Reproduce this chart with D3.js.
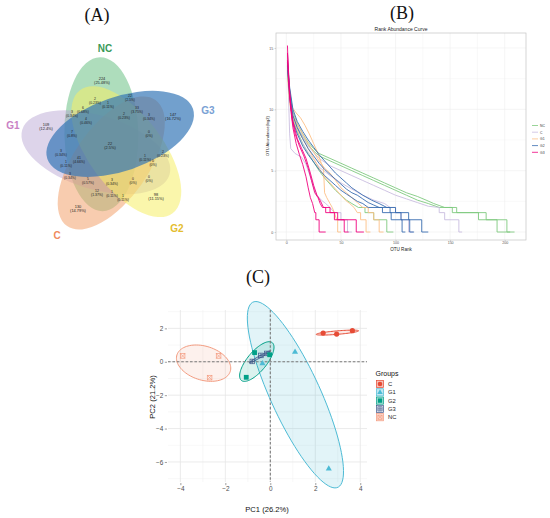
<!DOCTYPE html>
<html>
<head>
<meta charset="utf-8">
<title>OTU figure</title>
<style>
  body { margin: 0; background: #fff; }
  text { font-family: "Liberation Sans", Arial, sans-serif; }
  .tag { font-family: "Liberation Serif", "Times New Roman", serif; font-size: 18px; fill: #111; }
</style>
</head>
<body>
<script src="https://cdn.jsdelivr.net/npm/d3@7"></script>
<script>
// ================= data =================
// (A) Venn: five sets, 31 region counts with their printed percentages
var vennSets   = ["NC", "G3", "G2", "C", "G1"];
var vennCounts = [224, 147, 98, 130, 109, 22, 2, 1, 22, 33, 2, 3, 0, 3, 6, 4, 7, 3, 41, 1, 1, 2, 0, 3, 5, 3, 0, 0, 12, 1, 1];
var vennPcts   = ["25.48%", "16.72%", "11.15%", "14.79%", "12.4%", "2.5%", "0.23%", "0.11%", "2.5%", "3.75%",
                  "0.23%", "0.34%", "0%", "0.34%", "0.68%", "0.46%", "0.8%", "0.34%", "4.66%", "0.11%",
                  "0.11%", "0.23%", "0%", "0.34%", "0.57%", "0.34%", "0%", "0%", "1.37%", "0.11%", "0.11%"];

// (B) rank abundance curves, [OTU rank, log2 abundance], three samples per group
var rankGroups = ["NC", "C", "G1", "G2", "G3"];
var rankNC = [
  [[1,14],[3,11.5],[6,9.8],[10,8.8],[15,8],[20,7.3],[25,6.8],[30,6.4],[40,6],[50,5.6],[60,5.2],[70,4.8],[80,4.4],[90,4],[100,3.6],[110,3.2],[120,2.9],[128,2.6],[135,2.32],[145,2],[156,2],[156,1.58],[183,1.58],[183,1],[202,1],[202,0],[209,0]],
  [[1,13.8],[3,11],[6,9.5],[10,8.5],[15,7.8],[20,7.1],[25,6.6],[30,6.2],[40,5.8],[50,5.4],[60,5],[70,4.6],[80,4.2],[90,3.8],[100,3.4],[110,3],[120,2.6],[130,2.32],[140,2],[152,2],[152,1.58],[176,1.58],[176,1],[193,1],[193,0],[205,0]],
  [[1,13.5],[3,10.8],[6,9.2],[10,8.2],[15,7.2],[20,6.4],[25,5.7],[30,5],[35,4.4],[40,3.9],[45,3.4],[50,3],[55,2.6],[60,2.32],[66,2],[72,2],[72,1.58],[80,1.58],[80,1],[92,1],[92,0],[98,0]]
];
var rankC = [
  [[1,14.6],[3,11.5],[6,9.6],[10,8.6],[15,7.8],[20,7],[25,6.5],[30,6],[40,5.4],[50,5],[60,4.6],[70,4.2],[80,3.8],[90,3.4],[100,3],[110,2.7],[120,2.4],[130,2.1],[140,2],[140,1.58],[145,1.58],[145,1],[158,1],[158,0],[161,0]],
  [[1,14.4],[2,11],[3,8],[4,6.8],[8,6.4],[14,6.1],[18,5.5],[22,4.5],[25,3.6],[28,3],[32,2.6],[36,2.32],[40,2],[44,1.58],[50,1.58],[50,1],[56,1],[56,0],[60,0]],
  [[1,13.8],[3,11],[6,9],[10,8],[15,7.2],[20,6.5],[25,5.9],[30,5.3],[40,4.6],[50,4],[60,3.5],[70,3],[80,2.6],[90,2.32],[95,2],[100,2],[100,1.58],[105,1.58],[105,1],[112,1],[112,0],[116,0]]
];
var rankG1 = [
  [[1,13.2],[3,11],[5,10.2],[9,9.7],[13,9.3],[17,8.7],[21,8],[25,7.2],[29,6.4],[32,5.6],[34,5.2],[35,3.2],[37,2.8],[40,2.32],[42,2],[44,1.58],[46,1],[47,1],[47,0],[50,0]],
  [[1,13.5],[3,11],[6,9.5],[10,8.8],[15,8],[20,7.2],[25,6.5],[30,5.8],[35,5.2],[40,4.8],[45,4.2],[50,3.6],[55,3.2],[60,2.8],[65,2.4],[70,2],[75,2],[75,1.58],[80,1.58],[80,1],[85,1],[85,0],[89,0]],
  [[1,12.8],[3,10.5],[6,9.2],[10,8.3],[15,7.6],[20,6.8],[25,6],[30,5.2],[35,4.5],[40,4],[45,3.5],[50,3],[54,2.6],[58,2.32],[62,2],[65,1.58],[68,1.58],[68,1],[73,1],[73,0],[77,0]]
];
var rankG2 = [
  [[1,13.6],[3,11.5],[6,9.5],[10,8.5],[15,7.6],[20,6.8],[25,6.2],[30,5.6],[35,5.1],[40,4.7],[45,4.3],[50,3.9],[55,3.5],[60,3.2],[65,3],[70,2.7],[75,2.4],[80,2.2],[85,2],[95,2],[95,1.58],[105,1.58],[105,1],[113,1],[113,0],[117,0]],
  [[1,13.2],[3,11],[6,9],[10,8],[15,7],[20,6.3],[25,5.7],[30,5.1],[35,4.6],[40,4.2],[45,3.8],[50,3.4],[55,3.1],[60,2.8],[65,2.5],[70,2.32],[75,2],[88,2],[88,1.58],[96,1.58],[96,1],[106,1],[106,0],[109,0]],
  [[1,13.8],[3,11.8],[6,10],[10,9],[15,8.2],[20,7.5],[25,6.9],[30,6.3],[35,5.8],[40,5.3],[45,4.8],[50,4.4],[55,4],[60,3.6],[65,3.3],[70,3],[78,2.6],[85,2.32],[92,2],[100,2],[100,1.58],[112,1.58],[112,1],[124,1],[124,0],[130,0]]
];
var rankG3 = [
  [[1,15.2],[2,12.5],[4,10],[6,8.5],[9,7.2],[12,6.3],[15,5.5],[18,4.5],[20,3.6],[22,2.8],[24,2.32],[26,1.58],[27,1.58],[27,1],[30,1],[30,0],[36,0]],
  [[1,14.6],[3,11.5],[5,9.3],[8,8],[12,7],[16,6.2],[20,5.2],[23,4.2],[26,3.2],[29,2.8],[31,2.32],[33,2],[36,2],[36,1.58],[44,1.58],[44,1],[53,1],[53,0],[57,0]],
  [[1,14],[3,11],[6,9],[10,7.6],[14,6.8],[18,6],[22,4.8],[25,3.8],[28,3],[31,2.58],[34,2],[40,2],[40,1.58],[47,1.58],[47,1],[64,1],[64,0],[71,0]]
];
var rankXTicks = [0, 50, 100, 150, 200];
var rankYTicks = [0, 5, 10, 15];

// (C) PCA scores [PC1, PC2]
var pcaGroups = ["C", "G1", "G2", "G3", "NC"];
var pcaC  = [[2.35, 1.72], [2.95, 1.66], [3.65, 1.86]];
var pcaG1 = [[1.1, 0.58], [2.6, -6.4], [-0.35, -0.1]];
var pcaG2 = [[-0.7, 0.55], [-0.03, 0.42], [-1.07, -0.93]];
var pcaG3 = [[-0.8, 0.02], [-0.42, 0.38], [-0.15, 0.5]];
var pcaNC = [[-3.9, 0.35], [-2.3, 0.35], [-2.7, -0.95]];
var pcaXTicks = [-4, -2, 0, 2, 4];
var pcaYTicks = [-6, -4, -2, 0, 2];

// ================= figure =================
var width = 550, height = 518;
var svg = d3.select("body").append("svg")
    .attr("width", width)
    .attr("height", height);

svg.append("text").attr("class", "tag").attr("x", 97).attr("y", 21).attr("text-anchor", "middle").text("(A)");
svg.append("text").attr("class", "tag").attr("x", 402).attr("y", 19).attr("text-anchor", "middle").text("(B)");
svg.append("text").attr("class", "tag").attr("x", 258).attr("y", 283).attr("text-anchor", "middle").text("(C)");

// ---------- (A) Venn ----------
var gA = svg.append("g");
var vennFill    = {NC: "#5dbb7a", G3: "#2f73b5", G2: "#f6ee66", C: "#f3a36d", G1: "#b39fd0"};
var vennOpacity = {NC: 0.5, G3: 0.68, G2: 0.55, C: 0.55, G1: 0.45};
var vennText    = {NC: "#3a9a57", G3: "#79a1d4", G2: "#e4bd2f", C: "#ef8a5d", G1: "#c981c4"};
var vennLabelAt = {NC: [105, 52], G3: [208, 114], G2: [177, 232], C: [57, 239], G1: [13, 129]};
var vennPos = [[102,81],[173,117],[156,197],[78,209],[46,127],[110,146],[95,101],[108,105],[130,98],[137,110],
               [124,116],[149,117],[149,134],[72,114],[83,110],[86,121],[72,134],[61,153],[79,160],[66,164],
               [145,158],[163,154],[153,163],[70,176],[88,181],[112,182],[133,181],[149,179],[97,193],[112,194],[123,198]];
var vc = [111, 147], va = 77, vb = 37, voff = 16, rad = Math.PI / 180;

["NC", "G1", "C", "G2", "G3"].forEach(function(s){
  var i = vennSets.indexOf(s), th = -91 + 72 * i;
  var cx = vc[0] + voff * Math.cos((th - 36) * rad),
      cy = vc[1] + voff * Math.sin((th - 36) * rad);
  gA.append("ellipse")
    .attr("rx", va).attr("ry", vb)
    .attr("transform", "translate(" + cx + "," + cy + ") rotate(" + th + ")")
    .attr("fill", vennFill[s])
    .attr("fill-opacity", vennOpacity[s])
    .attr("stroke", "none");
});

gA.selectAll(".setlab")
  .data(vennSets)
  .enter().append("text")
  .attr("class", "setlab")
  .attr("x", function(d){ return vennLabelAt[d][0]; })
  .attr("y", function(d){ return vennLabelAt[d][1]; })
  .attr("text-anchor", "middle")
  .attr("font-size", "10px")
  .attr("font-weight", "bold")
  .attr("fill", function(d){ return vennText[d]; })
  .text(function(d){ return d; });

var reg = gA.selectAll(".reg")
  .data(vennCounts)
  .enter().append("g")
  .attr("class", "reg")
  .attr("transform", function(d, i){ return "translate(" + vennPos[i][0] + "," + vennPos[i][1] + ")"; });
reg.append("text")
  .attr("y", -0.8)
  .attr("text-anchor", "middle")
  .attr("font-size", function(d, i){ return i < 6 ? "3.9px" : "3.4px"; })
  .attr("fill", "#222")
  .text(function(d){ return d; });
reg.append("text")
  .attr("y", 3.4)
  .attr("text-anchor", "middle")
  .attr("font-size", function(d, i){ return i < 6 ? "3.9px" : "3.4px"; })
  .attr("fill", "#222")
  .text(function(d, i){ return "(" + vennPcts[i] + ")"; });

// ---------- (B) Rank abundance ----------
var gB = svg.append("g");
var bx = d3.scaleLinear().domain([-9.5, 219.5]).range([276, 526]);
var by = d3.scaleLinear().domain([-0.65, 16.22]).range([240, 33]);
var rankColor = {NC: "#7fc97f", C: "#c9bde0", G1: "#fdc086", G2: "#386cb0", G3: "#f0027f"};
var rankData = {NC: rankNC, C: rankC, G1: rankG1, G2: rankG2, G3: rankG3};

gB.append("rect").attr("x", 276).attr("y", 33).attr("width", 250).attr("height", 207).attr("fill", "#fff");
var bMinorX = [25, 75, 125, 175], bMinorY = [2.5, 7.5, 12.5];
gB.selectAll(".gx").data(rankXTicks.concat(bMinorX)).enter().append("line")
  .attr("x1", bx).attr("x2", bx).attr("y1", 33).attr("y2", 240)
  .attr("stroke", "#efefef").attr("stroke-width", function(d){ return rankXTicks.indexOf(d) >= 0 ? 0.6 : 0.35; });
gB.selectAll(".gy").data(rankYTicks.concat(bMinorY)).enter().append("line")
  .attr("y1", by).attr("y2", by).attr("x1", 276).attr("x2", 526)
  .attr("stroke", "#efefef").attr("stroke-width", function(d){ return rankYTicks.indexOf(d) >= 0 ? 0.6 : 0.35; });

var rankLine = d3.line().x(function(d){ return bx(d[0]); }).y(function(d){ return by(d[1]); });
rankGroups.forEach(function(g){
  gB.append("g").selectAll("path")
    .data(rankData[g])
    .enter().append("path")
    .attr("d", rankLine)
    .attr("fill", "none")
    .attr("stroke", rankColor[g])
    .attr("stroke-width", 0.9);
});

gB.append("rect").attr("x", 276).attr("y", 33).attr("width", 250).attr("height", 207)
  .attr("fill", "none").attr("stroke", "#c4c4c4").attr("stroke-width", 0.7);

var axB = d3.axisBottom(bx).tickValues(rankXTicks).tickSize(1).tickPadding(0.4);
gB.append("g").attr("transform", "translate(0,240)").call(axB)
  .call(function(g){
    g.select(".domain").remove();
    g.selectAll("line").attr("stroke", "#999").attr("stroke-width", 0.4);
    g.selectAll("text").attr("font-size", "3.6px").attr("fill", "#555").attr("font-family", null);
  });
var ayB = d3.axisLeft(by).tickValues(rankYTicks).tickSize(1.5).tickPadding(1.2);
gB.append("g").attr("transform", "translate(276,0)").call(ayB)
  .call(function(g){
    g.select(".domain").remove();
    g.selectAll("line").attr("stroke", "#999").attr("stroke-width", 0.4);
    g.selectAll("text").attr("font-size", "3.6px").attr("fill", "#555").attr("font-family", null);
  });

gB.append("text").attr("x", 401).attr("y", 30.8).attr("text-anchor", "middle")
  .attr("font-size", "5px").attr("fill", "#222").text("Rank Abundance Curve");
gB.append("text").attr("x", 401).attr("y", 251).attr("text-anchor", "middle")
  .attr("font-size", "4.6px").attr("fill", "#222").text("OTU Rank");
gB.append("text").attr("transform", "translate(268.5,136) rotate(-90)").attr("text-anchor", "middle")
  .attr("font-size", "4px").attr("fill", "#222").text("OTU Abundance(log2)");

var legB = gB.selectAll(".legB").data(rankGroups).enter().append("g")
  .attr("transform", function(d, i){ return "translate(532," + (125.5 + i * 6.7) + ")"; });
legB.append("line").attr("x1", 0).attr("x2", 6).attr("stroke", function(d){ return rankColor[d]; }).attr("stroke-width", 0.8);
legB.append("text").attr("x", 8).attr("y", 1.3).attr("font-size", "3.4px").attr("fill", "#333").text(function(d){ return d; });

// ---------- (C) PCA ----------
var gC = svg.append("g");
var cx = d3.scaleLinear().domain([-4.55, 4.3]).range([168, 367]);
var cy = d3.scaleLinear().domain([-7.2, 3.1]).range([482, 310]);
var pcaColor = {C: "#E64B35", G1: "#4DBBD5", G2: "#00A087", G3: "#3C5488", NC: "#F39B7F"};
var pcaFill  = {C: 0.12, G1: 0.16, G2: 0.14, G3: 0.1, NC: 0.14};
var pcaData  = {C: pcaC, G1: pcaG1, G2: pcaG2, G3: pcaG3, NC: pcaNC};

var cMinorX = [-3, -1, 1, 3], cMinorY = [-7, -5, -3, -1, 1, 3];
gC.selectAll(".mx").data(cMinorX).enter().append("line")
  .attr("x1", cx).attr("x2", cx).attr("y1", 310).attr("y2", 482).attr("stroke", "#f1f1f1").attr("stroke-width", 0.5);
gC.selectAll(".my").data(cMinorY).enter().append("line")
  .attr("y1", cy).attr("y2", cy).attr("x1", 168).attr("x2", 367).attr("stroke", "#f1f1f1").attr("stroke-width", 0.5);
gC.selectAll(".Mx").data(pcaXTicks).enter().append("line")
  .attr("x1", cx).attr("x2", cx).attr("y1", 310).attr("y2", 482).attr("stroke", "#e6e6e6").attr("stroke-width", 0.8);
gC.selectAll(".My").data(pcaYTicks).enter().append("line")
  .attr("y1", cy).attr("y2", cy).attr("x1", 168).attr("x2", 367).attr("stroke", "#e6e6e6").attr("stroke-width", 0.8);

// covariance ellipse around each group's three samples
function groupEllipse(pts){
  var n = pts.length,
      mx = d3.mean(pts, function(d){ return d[0]; }),
      my = d3.mean(pts, function(d){ return d[1]; });
  var sxx = d3.sum(pts, function(d){ return (d[0] - mx) * (d[0] - mx); }) / (n - 1),
      syy = d3.sum(pts, function(d){ return (d[1] - my) * (d[1] - my); }) / (n - 1),
      sxy = d3.sum(pts, function(d){ return (d[0] - mx) * (d[1] - my); }) / (n - 1);
  var tr = sxx + syy, det = sxx * syy - sxy * sxy,
      disc = Math.sqrt(Math.max(tr * tr / 4 - det, 0));
  var l1 = tr / 2 + disc, l2 = Math.max(tr / 2 - disc, 0);
  var ang = Math.atan2(l1 - sxx, sxy), k = 1.45;
  var a = k * Math.sqrt(l1), b = k * Math.sqrt(l2);
  return d3.range(0, 361, 4).map(function(t){
    t = t * rad;
    var u = a * Math.cos(t), v = b * Math.sin(t);
    return [mx + u * Math.cos(ang) - v * Math.sin(ang), my + u * Math.sin(ang) + v * Math.cos(ang)];
  });
}
var ellLine = d3.line().x(function(d){ return cx(d[0]); }).y(function(d){ return cy(d[1]); });

["NC", "G1", "G2", "G3", "C"].forEach(function(g){
  gC.append("path")
    .attr("d", ellLine(groupEllipse(pcaData[g])) + "Z")
    .attr("fill", pcaColor[g]).attr("fill-opacity", pcaFill[g])
    .attr("stroke", pcaColor[g]).attr("stroke-width", 1);
});

gC.append("line").attr("x1", cx(0)).attr("x2", cx(0)).attr("y1", 310).attr("y2", 482)
  .attr("stroke", "#7a7a7a").attr("stroke-width", 1.1).attr("stroke-dasharray", "2.6,1.8");
gC.append("line").attr("y1", cy(0)).attr("y2", cy(0)).attr("x1", 168).attr("x2", 367)
  .attr("stroke", "#7a7a7a").attr("stroke-width", 1.1).attr("stroke-dasharray", "2.6,1.8");

function drawMark(sel, g, s){
  var c = pcaColor[g];
  if (g === "C") {
    sel.append("circle").attr("r", 2.6 * s).attr("fill", c);
  } else if (g === "G1") {
    sel.append("path").attr("d", d3.symbol(d3.symbolTriangle, 16 * s * s)()).attr("fill", c);
  } else if (g === "G2") {
    sel.append("rect").attr("x", -2.4 * s).attr("y", -2.4 * s).attr("width", 4.8 * s).attr("height", 4.8 * s).attr("fill", c);
  } else {
    var h = 2.3 * s;
    sel.append("rect").attr("x", -h).attr("y", -h).attr("width", 2 * h).attr("height", 2 * h)
      .attr("fill", "none").attr("stroke", c).attr("stroke-width", 0.7);
    var seg = g === "G3" ? [[-h, 0, h, 0], [0, -h, 0, h]] : [[-h, -h, h, h], [-h, h, h, -h]];
    seg.forEach(function(q){
      sel.append("line").attr("x1", q[0]).attr("y1", q[1]).attr("x2", q[2]).attr("y2", q[3])
        .attr("stroke", c).attr("stroke-width", 0.7);
    });
  }
}

["NC", "G3", "G2", "G1", "C"].forEach(function(g){
  gC.selectAll(".pt" + g).data(pcaData[g]).enter().append("g")
    .attr("transform", function(d){ return "translate(" + cx(d[0]) + "," + cy(d[1]) + ")"; })
    .each(function(){ drawMark(d3.select(this), g, 1); });
});

var axC = d3.axisBottom(cx).tickValues(pcaXTicks).tickSize(2.2).tickPadding(1.5);
gC.append("g").attr("transform", "translate(0,483)").call(axC)
  .call(function(g){
    g.select(".domain").remove();
    g.selectAll("line").attr("stroke", "#444").attr("stroke-width", 0.5);
    g.selectAll("text").attr("font-size", "6.4px").attr("fill", "#4d4d4d").attr("font-family", null);
  });
var ayC = d3.axisLeft(cy).tickValues(pcaYTicks).tickSize(2.2).tickPadding(1.5);
gC.append("g").attr("transform", "translate(167,0)").call(ayC)
  .call(function(g){
    g.select(".domain").remove();
    g.selectAll("line").attr("stroke", "#444").attr("stroke-width", 0.5);
    g.selectAll("text").attr("font-size", "6.4px").attr("fill", "#4d4d4d").attr("font-family", null);
  });

gC.append("text").attr("x", 267).attr("y", 512).attr("text-anchor", "middle")
  .attr("font-size", "7.6px").attr("fill", "#111").text("PC1 (26.2%)");
gC.append("text").attr("transform", "translate(154.5,397) rotate(-90)").attr("text-anchor", "middle")
  .attr("font-size", "7.6px").attr("fill", "#111").text("PC2 (21.2%)");

gC.append("text").attr("x", 375.5).attr("y", 376).attr("font-size", "7px").attr("fill", "#111").text("Groups");
var legC = gC.selectAll(".legC").data(pcaGroups).enter().append("g")
  .attr("transform", function(d, i){ return "translate(380," + (384 + i * 8.3) + ")"; });
legC.append("rect").attr("x", -3.6).attr("y", -3.6).attr("width", 7.2).attr("height", 7.2)
  .attr("fill", function(d){ return pcaColor[d]; }).attr("fill-opacity", function(d){ return d === "G3" ? 0.08 : 0.35; })
  .attr("stroke", function(d){ return pcaColor[d]; }).attr("stroke-width", 0.7);
legC.each(function(d){ drawMark(d3.select(this), d, 0.9); });
legC.append("text").attr("x", 8).attr("y", 2.1).attr("font-size", "5.8px").attr("fill", "#222").text(function(d){ return d; });
</script>
</body>
</html>
